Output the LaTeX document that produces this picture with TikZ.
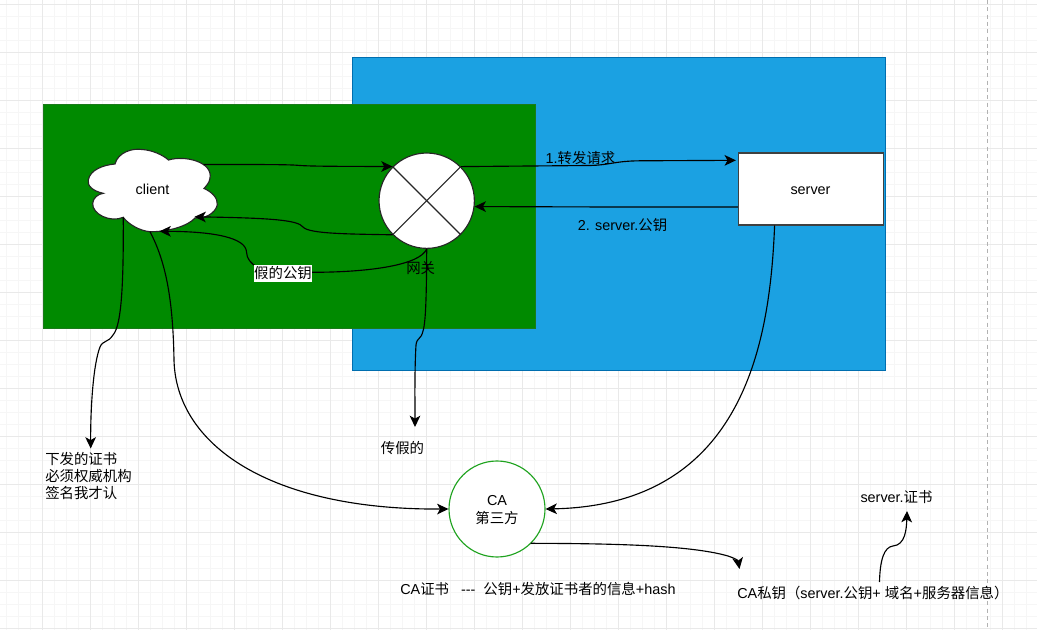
\documentclass[tikz,border=0pt]{standalone}
\usepackage{fontspec}
\setmainfont{Liberation Sans}
\newfontfamily\zhf{Noto Sans CJK SC}
\newcommand{\zh}[1]{{\zhf #1}}
\usetikzlibrary{arrows.meta}
\definecolor{gridminor}{HTML}{F6F6F6}
\definecolor{gridmajor}{HTML}{E9E9E9}
\definecolor{bluefill}{HTML}{1BA1E2}
\definecolor{bluestroke}{HTML}{006EAF}
\definecolor{greenfill}{HTML}{008A00}
\definecolor{greenstroke}{HTML}{1A7A1A}
\definecolor{castroke}{HTML}{1FA31F}
\tikzset{
  x=0.75pt,y=-0.75pt,
  conn/.style={draw=black,line width=0.85pt,-{Stealth[length=8.5pt,width=8pt,inset=2.2pt]}},
  lbl/.style={font=\fontsize{10.8pt}{12.75pt}\selectfont,inner sep=0pt,text=black},
  shapeline/.style={draw=black!85,line width=0.85pt,fill=white}
}
\begin{document}
\begin{tikzpicture}
\useasboundingbox (0,0) rectangle (1037,630);
\fill[white] (0,0) rectangle (1037,630);
% grid
\foreach \k in {0,...,87} \draw[gridminor,line width=0.6pt] ({-5.3+12*\k},0) -- ({-5.3+12*\k},630);
\foreach \k in {0,...,52} \draw[gridminor,line width=0.6pt] (0,{4.7+12*\k}) -- (1037,{4.7+12*\k});
\foreach \k in {0,...,22} \draw[gridmajor,line width=0.6pt] ({-5.3+48*\k},0) -- ({-5.3+48*\k},630);
\foreach \k in {0,...,13} \draw[gridmajor,line width=0.6pt] (0,{4.7+48*\k}) -- (1037,{4.7+48*\k});
\draw[black!30,line width=0.75pt,dash pattern=on 3pt off 2.5pt] (987.4,0) -- (987.4,630);
% panels
\path[fill=bluefill,draw=bluestroke,line width=0.75pt] (352.5,57.5) rectangle (885.5,370);
\path[fill=greenfill,draw=greenstroke,line width=0.75pt] (43,105) rectangle (535,329);
% cloud
\path[shapeline] (115,164)
  .. controls (118,152) and (133,148) .. (142,149.5)
  .. controls (152,150) and (163,155) .. (168.5,160)
  .. controls (185,155) and (213,162) .. (210,178)
  .. controls (209.5,183) and (206,186) .. (204,188.5)
  .. controls (212,192) and (218,198) .. (217.3,205)
  .. controls (215,214) and (204,219) .. (195,218)
  .. controls (188,226) and (168,232) .. (150,231.7)
  .. controls (140,231) and (128,224) .. (123.3,217.3)
  .. controls (110,223) and (92,214) .. (92.7,203.3)
  .. controls (93,198) and (98,194) .. (103.3,193.3)
  .. controls (92,191) and (87,185) .. (88.3,180)
  .. controls (90,170) and (103,165) .. (115,164) -- cycle;
\node[lbl] (client) at (152.5,189) {client};
\coordinate (clTop) at (203.5,164.5);
\coordinate (clIn1) at (194.5,216.8);
\coordinate (clIn2) at (159.5,231.3);
\coordinate (clOut1) at (123.3,217.3);
\coordinate (clOut2) at (150,231.7);
% gateway and server
\node[shapeline,circle,inner sep=0pt,minimum size=71.5pt] (gw) at (426.7,200.7) {};
\draw[black!85,line width=0.85pt] (gw.45) -- (gw.225);
\draw[black!85,line width=0.85pt] (gw.135) -- (gw.315);
\node[draw=black!75,line width=0.9pt,fill=white,inner sep=0pt,minimum width=108.75pt,minimum height=54pt] (sv) at (811,189) {};
\node[lbl] (svl) at (810.5,190.5) {server};
\node[draw=castroke,line width=0.85pt,fill=white,circle,inner sep=0pt,minimum size=72pt] (ca) at (497,509) {};
\node[lbl,align=center] (cal) at (497,510) {CA\\[1pt]\zh{第三方}};
% free ends
\coordinate (fakeEnd) at (415,427);
\coordinate (certEnd) at (90.7,448.5);
\coordinate (keyEnd) at (739.5,569);
\coordinate (keyStart) at (879.5,582);
\coordinate (svEnd) at (907,511);
\coordinate (caOut) at (530.5,543.3);
\coordinate (svOut) at (774.6,225.5);
% connectors
\draw[conn] (clTop) .. controls (270,164.5) and (290,164.5) .. (300,165.5) .. controls (315,166.5) and (350,166.3) .. (gw.135);
\draw[conn] (gw.45) -- (590,165.5) .. controls (610,165) and (615,161) .. (640,160.8) -- ([xshift=-1.5pt,yshift=21.5pt]sv.west);
\draw[conn] ([yshift=-13.5pt]sv.west) -- (610,207) -- (gw.-7);
\draw[conn] (gw.225) .. controls (350,234) and (309,234) .. (303,227) .. controls (298,220) and (270,218) .. (clIn1);
\draw[conn] (gw.south) .. controls (420,265) and (370,272.3) .. (312,272.3) -- (283,272.3) .. controls (262,272) and (247,265) .. (246.5,252) .. controls (246,238) and (215,231.5) .. (clIn2);
\draw[conn] (gw.south) .. controls (426.5,290) and (426,322) .. (423,331) .. controls (421,340) and (417,337) .. (416,345) .. controls (414.5,370) and (415,400) .. (fakeEnd);
\draw[conn] (clOut1) .. controls (123.5,280) and (122,325) .. (113,335) .. controls (108,343) and (103,340) .. (100,347) .. controls (93,365) and (90.5,410) .. (certEnd);
\draw[conn] (clOut2) .. controls (166,262) and (173,300) .. (174,360) .. controls (176,445) and (270,510) .. (ca.west);
\draw[conn] (svOut) .. controls (770,340) and (745,505) .. (ca.east);
\draw[conn] (caOut) .. controls (610,543.5) and (690,545) .. (728,556) .. controls (734,558) and (738,560) .. (keyEnd);
\draw[conn] (keyStart) .. controls (880,560) and (884,547) .. (893,546) .. controls (905,545) and (906.5,530) .. (svEnd);
% labels
\node[lbl,fill=white,minimum width=43.5pt,minimum height=12.5pt] (fake) at (283,273.3) {\zh{假的公钥}};
\node[lbl] (gwl) at (420.7,268.3) {\zh{网关}};
\node[lbl] (l1) at (580.5,158.3) {1.\zh{转发请求}};
\node[lbl] (l2) at (622.5,225.3) {2. server.\zh{公钥}};
\node[lbl] (l3) at (402.5,448) {\zh{传假的}};
\node[lbl,align=left,anchor=north west] (l4) at (45,452) {\zh{下发的证书}\\\zh{必须权威机构}\\\zh{签名我才认}};
\node[lbl,anchor=west] (l5) at (400,589) {CA\zh{证书}\ \ \ -{}-{}-\ \ \zh{公钥}+\zh{发放证书者的信息}+hash};
\node[lbl,anchor=west] (l6) at (737,593) {CA\zh{私钥（}server.\zh{公钥}+ \zh{域名}+\zh{服务器信息）}};
\node[lbl] (l7) at (896.5,497) {server.\zh{证书}};
\end{tikzpicture}
\end{document}
